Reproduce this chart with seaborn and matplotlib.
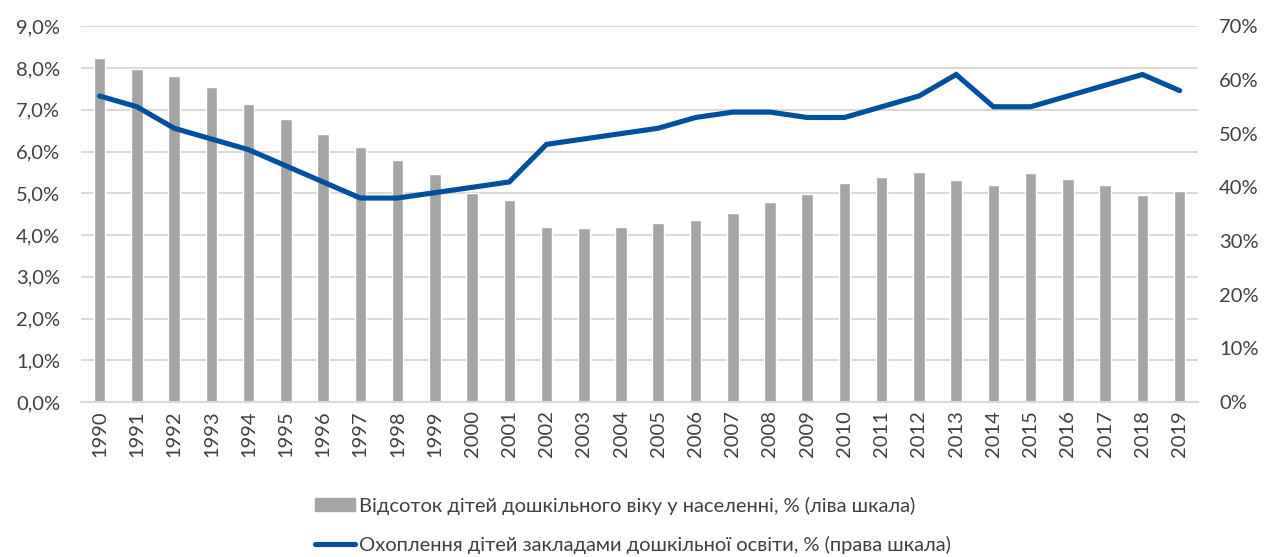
import numpy as np
import pandas as pd
import matplotlib
matplotlib.use('Agg')
import matplotlib.pyplot as plt
from matplotlib.ticker import FuncFormatter, MultipleLocator
import seaborn as sns

years = [str(y) for y in range(1990, 2020)]
share_children = [8.25, 7.98, 7.81, 7.54, 7.14, 6.79, 6.43, 6.11, 5.80, 5.45,
                  5.00, 4.84, 4.19, 4.16, 4.19, 4.29, 4.35, 4.52, 4.78, 4.98,
                  5.24, 5.39, 5.50, 5.31, 5.20, 5.49, 5.35, 5.21, 4.96, 5.05]
coverage = [57, 55, 51, 49, 47, 44, 41, 38, 38, 39,
            40, 41, 48, 49, 50, 51, 53, 54, 54, 53,
            53, 55, 57, 61, 55, 55, 57, 59, 61, 58]

bar_label = 'Відсоток дітей дошкільного віку у населенні, % (ліва шкала)'
line_label = 'Охоплення дітей закладами дошкільної освіти, % (права шкала)'

df = pd.DataFrame({'year': years, 'share': share_children, 'coverage': coverage})

sns.set_style('white')
plt.rcParams['font.family'] = ['Lato', 'DejaVu Sans']

fig = plt.figure(figsize=(12.66, 5.57), dpi=100)
ax = fig.add_axes([0.064, 0.278, 0.8825, 0.675])

grid_col = '#d9d9d9'
txt_col = '#404040'
fs = 14.5

# bars on the left scale
sns.barplot(data=df, x='year', y='share', color='#a5a5a5', width=0.31,
            saturation=1, ax=ax, zorder=2)
ax.set_ylim(0, 9)
ax.yaxis.set_major_locator(MultipleLocator(1))
ax.yaxis.set_major_formatter(FuncFormatter(lambda v, p: f'{v:.1f}%'.replace('.', ',')))
ax.grid(axis='y', color=grid_col, linewidth=1.5, zorder=0)
ax.set_axisbelow(True)
ax.set_xlabel('')
ax.set_ylabel('')
ax.set_xlim(-0.5, len(years) - 0.5)
for s in ['top', 'left', 'right']:
    ax.spines[s].set_visible(False)
ax.spines['bottom'].set_color(grid_col)
ax.spines['bottom'].set_linewidth(1.5)
ax.tick_params(axis='x', labelrotation=90, labelsize=fs, colors=txt_col, length=0, pad=6)
ax.tick_params(axis='y', labelsize=fs, colors=txt_col, length=0, pad=15)

# line on the right scale
ax2 = ax.twinx()
sns.lineplot(x=np.arange(len(years)), y=df['coverage'], color='#00509d',
             linewidth=3.7, ax=ax2, solid_joinstyle='miter', solid_capstyle='round')
ax2.set_ylim(0, 70)
ax2.yaxis.set_major_locator(MultipleLocator(10))
ax2.yaxis.set_major_formatter(FuncFormatter(lambda v, p: f'{v:.0f}%'))
ax2.set_ylabel('')
ax2.tick_params(axis='y', labelsize=fs, colors=txt_col, length=0, pad=15)
for s in ['top', 'left', 'right', 'bottom']:
    ax2.spines[s].set_visible(False)
ax2.set_xlim(-0.5, len(years) - 0.5)

bar_handle = plt.Rectangle((0, 0), 1, 1, color='#a5a5a5')
line_handle = plt.Line2D([0], [0], color='#00509d', linewidth=3.7, solid_capstyle='round')
fig.legend([bar_handle, line_handle], [bar_label, line_label], loc='lower center',
           bbox_to_anchor=(0.5, -0.027), ncol=1, frameon=False, fontsize=fs,
           handlelength=1.95, handleheight=0.6, handletextpad=0.2, labelspacing=1.05,
           labelcolor=txt_col)

fig.savefig('out.png', dpi=100)
